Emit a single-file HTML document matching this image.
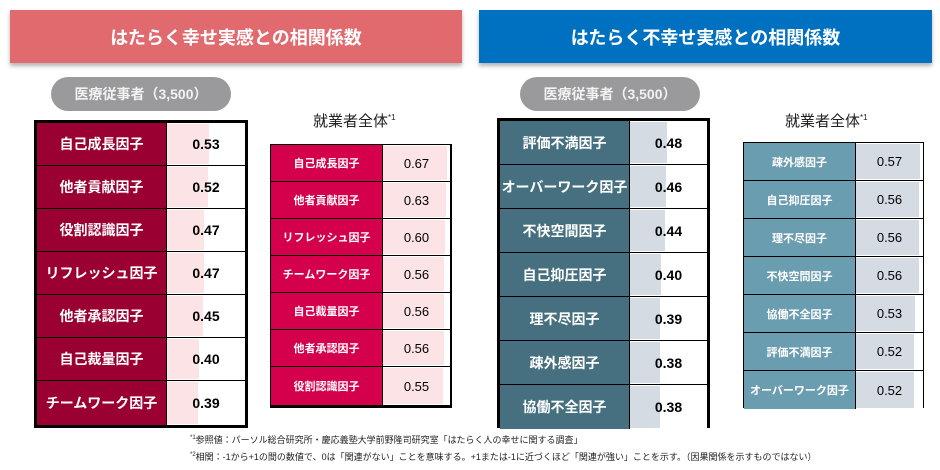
<!DOCTYPE html><html><head><meta charset="utf-8"><style>
*{margin:0;padding:0;box-sizing:border-box}
body{width:940px;height:470px;background:#fff;position:relative;overflow:hidden;font-family:"Liberation Sans","Noto Sans CJK JP",sans-serif}
.ban{position:absolute;top:10px;height:53px;color:#fff;font-size:18px;font-weight:bold;display:flex;align-items:center;justify-content:center;box-shadow:0 3px 4px rgba(0,0,0,.3)}
.pill{position:absolute;top:77px;width:180px;height:34px;border-radius:17px;background:#9a9a9c;color:#f2f2f2;font-size:14px;font-weight:bold;display:flex;align-items:center;justify-content:center}
.t{position:absolute;border:3px solid #000;background:#000}
.t .r{display:flex;border-bottom:1px solid #000}
.t .r:last-child{border-bottom:none}
.l{color:#fff;font-weight:bold;display:flex;align-items:center;justify-content:center;border-right:1px solid #000}
.v{position:relative;background:#fff;display:flex;align-items:center;justify-content:center;font-weight:bold}
.v i{position:absolute;left:0;top:1px;bottom:1px}
.v span{position:relative}
.s{position:absolute;border:1px solid #000;background:#000}
.s .r{display:flex;border-bottom:1px solid #000}
.s .r:last-child{border-bottom:none}
.s .v{font-weight:normal}
.ttl{position:absolute;top:110px;font-size:15px;color:#222}
.ttl sup{font-size:8px}
.fn{position:absolute;left:190px;font-size:9px;color:#222}
</style></head><body>
<div class="ban" style="left:10px;width:452px;background:#e06a6e">はたらく幸せ実感との相関係数</div>
<div class="ban" style="left:479px;width:453px;background:#0070c0">はたらく不幸せ実感との相関係数</div>
<div class="pill" style="left:51px">医療従事者（3,500）</div>
<div class="pill" style="left:520px">医療従事者（3,500）</div>

<div class="t" style="left:34px;top:120px;width:214px;height:308px">
<div class="r" style="height:43px"><div class="l" style="width:130px;background:#9b0033;font-size:14px">自己成長因子</div><div class="v" style="width:78px;font-size:14px"><i style="width:42px;background:#fce4e6"></i><span>0.53</span></div></div>
<div class="r" style="height:43px"><div class="l" style="width:130px;background:#9b0033;font-size:14px">他者貢献因子</div><div class="v" style="width:78px;font-size:14px"><i style="width:41px;background:#fce4e6"></i><span>0.52</span></div></div>
<div class="r" style="height:43px"><div class="l" style="width:130px;background:#9b0033;font-size:14px">役割認識因子</div><div class="v" style="width:78px;font-size:14px"><i style="width:37px;background:#fce4e6"></i><span>0.47</span></div></div>
<div class="r" style="height:43px"><div class="l" style="width:130px;background:#9b0033;font-size:14px">リフレッシュ因子</div><div class="v" style="width:78px;font-size:14px"><i style="width:37px;background:#fce4e6"></i><span>0.47</span></div></div>
<div class="r" style="height:43px"><div class="l" style="width:130px;background:#9b0033;font-size:14px">他者承認因子</div><div class="v" style="width:78px;font-size:14px"><i style="width:36px;background:#fce4e6"></i><span>0.45</span></div></div>
<div class="r" style="height:43px"><div class="l" style="width:130px;background:#9b0033;font-size:14px">自己裁量因子</div><div class="v" style="width:78px;font-size:14px"><i style="width:32px;background:#fce4e6"></i><span>0.40</span></div></div>
<div class="r" style="height:44px"><div class="l" style="width:130px;background:#9b0033;font-size:14px">チームワーク因子</div><div class="v" style="width:78px;font-size:14px"><i style="width:31px;background:#fce4e6"></i><span>0.39</span></div></div>
</div>

<div class="ttl" style="left:313px">就業者全体<sup>*1</sup></div>
<div class="s" style="left:270px;top:144px;width:182px;height:264px">
<div class="r" style="height:37px"><div class="l" style="width:112px;background:#d4004c;font-size:11px">自己成長因子</div><div class="v" style="width:67px;font-size:13px"><i style="width:64px;background:#fce4e6"></i><span>0.67</span></div></div>
<div class="r" style="height:37px"><div class="l" style="width:112px;background:#d4004c;font-size:11px">他者貢献因子</div><div class="v" style="width:67px;font-size:13px"><i style="width:63px;background:#fce4e6"></i><span>0.63</span></div></div>
<div class="r" style="height:37px"><div class="l" style="width:112px;background:#d4004c;font-size:11px">リフレッシュ因子</div><div class="v" style="width:67px;font-size:13px"><i style="width:62px;background:#fce4e6"></i><span>0.60</span></div></div>
<div class="r" style="height:37px"><div class="l" style="width:112px;background:#d4004c;font-size:11px">チームワーク因子</div><div class="v" style="width:67px;font-size:13px"><i style="width:61px;background:#fce4e6"></i><span>0.56</span></div></div>
<div class="r" style="height:37px"><div class="l" style="width:112px;background:#d4004c;font-size:11px">自己裁量因子</div><div class="v" style="width:67px;font-size:13px"><i style="width:61px;background:#fce4e6"></i><span>0.56</span></div></div>
<div class="r" style="height:37px"><div class="l" style="width:112px;background:#d4004c;font-size:11px">他者承認因子</div><div class="v" style="width:67px;font-size:13px"><i style="width:61px;background:#fce4e6"></i><span>0.56</span></div></div>
<div class="r" style="height:38px"><div class="l" style="width:112px;background:#d4004c;font-size:11px">役割認識因子</div><div class="v" style="width:67px;font-size:13px"><i style="width:60px;background:#fce4e6"></i><span>0.55</span></div></div>
</div>

<div class="t" style="left:497px;top:118px;width:213px;height:310px">
<div class="r" style="height:44px"><div class="l" style="width:130px;background:#46707f;font-size:14px">評価不満因子</div><div class="v" style="width:77px;font-size:14px"><i style="width:37px;background:#d5dbe3"></i><span>0.48</span></div></div>
<div class="r" style="height:44px"><div class="l" style="width:130px;background:#46707f;font-size:14px">オーバーワーク因子</div><div class="v" style="width:77px;font-size:14px"><i style="width:36px;background:#d5dbe3"></i><span>0.46</span></div></div>
<div class="r" style="height:44px"><div class="l" style="width:130px;background:#46707f;font-size:14px">不快空間因子</div><div class="v" style="width:77px;font-size:14px"><i style="width:35px;background:#d5dbe3"></i><span>0.44</span></div></div>
<div class="r" style="height:44px"><div class="l" style="width:130px;background:#46707f;font-size:14px">自己抑圧因子</div><div class="v" style="width:77px;font-size:14px"><i style="width:31px;background:#d5dbe3"></i><span>0.40</span></div></div>
<div class="r" style="height:44px"><div class="l" style="width:130px;background:#46707f;font-size:14px">理不尽因子</div><div class="v" style="width:77px;font-size:14px"><i style="width:30px;background:#d5dbe3"></i><span>0.39</span></div></div>
<div class="r" style="height:44px"><div class="l" style="width:130px;background:#46707f;font-size:14px">疎外感因子</div><div class="v" style="width:77px;font-size:14px"><i style="width:30px;background:#d5dbe3"></i><span>0.38</span></div></div>
<div class="r" style="height:44px"><div class="l" style="width:130px;background:#46707f;font-size:14px">協働不全因子</div><div class="v" style="width:77px;font-size:14px"><i style="width:30px;background:#d5dbe3"></i><span>0.38</span></div></div>
</div>

<div class="ttl" style="left:785px">就業者全体<sup>*1</sup></div>
<div class="s" style="left:743px;top:142px;width:181px;height:266px">
<div class="r" style="height:38px"><div class="l" style="width:112px;background:#6b9db0;font-size:11px">疎外感因子</div><div class="v" style="width:67px;font-size:13px"><i style="width:64px;background:#d5dbe3"></i><span>0.57</span></div></div>
<div class="r" style="height:38px"><div class="l" style="width:112px;background:#6b9db0;font-size:11px">自己抑圧因子</div><div class="v" style="width:67px;font-size:13px"><i style="width:63px;background:#d5dbe3"></i><span>0.56</span></div></div>
<div class="r" style="height:38px"><div class="l" style="width:112px;background:#6b9db0;font-size:11px">理不尽因子</div><div class="v" style="width:67px;font-size:13px"><i style="width:63px;background:#d5dbe3"></i><span>0.56</span></div></div>
<div class="r" style="height:38px"><div class="l" style="width:112px;background:#6b9db0;font-size:11px">不快空間因子</div><div class="v" style="width:67px;font-size:13px"><i style="width:63px;background:#d5dbe3"></i><span>0.56</span></div></div>
<div class="r" style="height:38px"><div class="l" style="width:112px;background:#6b9db0;font-size:11px">協働不全因子</div><div class="v" style="width:67px;font-size:13px"><i style="width:59px;background:#d5dbe3"></i><span>0.53</span></div></div>
<div class="r" style="height:38px"><div class="l" style="width:112px;background:#6b9db0;font-size:11px">評価不満因子</div><div class="v" style="width:67px;font-size:13px"><i style="width:58px;background:#d5dbe3"></i><span>0.52</span></div></div>
<div class="r" style="height:38px"><div class="l" style="width:112px;background:#6b9db0;font-size:11px">オーバーワーク因子</div><div class="v" style="width:67px;font-size:13px"><i style="width:58px;background:#d5dbe3"></i><span>0.52</span></div></div>
</div>

<div class="fn" style="top:433px"><sup style="font-size:6px">*1</sup>参照値：パーソル総合研究所・慶応義塾大学前野隆司研究室「はたらく人の幸せに関する調査」</div>
<div class="fn" style="top:450px"><sup style="font-size:6px">*2</sup>相関：-1から+1の間の数値で、0は「関連がない」ことを意味する。+1または-1に近づくほど「関連が強い」ことを示す。（因果関係を示すものではない）</div>
</body></html>
